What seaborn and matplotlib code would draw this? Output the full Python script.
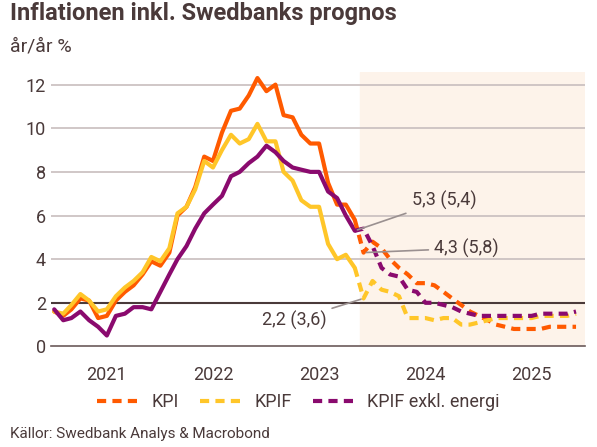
import matplotlib
matplotlib.use("Agg")
import matplotlib.pyplot as plt
import seaborn as sns
import pandas as pd
import numpy as np
from matplotlib.lines import Line2D

kpi_act = [1.6,1.4,1.7,2.2,2.1,1.3,1.4,2.1,2.5,2.8,3.3,3.9,
           3.7,4.3,6.0,6.4,7.3,8.7,8.5,9.8,10.8,10.9,11.5,12.3,
           11.7,12.0,10.6,10.5,9.7,9.3,9.3,7.5,6.5,6.5,5.8]
kpif_act = [1.6,1.5,1.9,2.4,2.1,1.6,1.7,2.3,2.7,3.0,3.4,4.1,
            3.9,4.5,6.1,6.4,7.2,8.5,8.2,9.0,9.7,9.3,9.5,10.2,
            9.4,9.4,8.0,7.6,6.7,6.4,6.4,4.7,4.0,4.2,3.6]
kpie_act = [1.7,1.2,1.3,1.6,1.2,0.9,0.5,1.4,1.5,1.8,1.8,1.7,
            2.5,3.3,4.0,4.6,5.4,6.1,6.5,6.9,7.8,8.0,8.4,8.7,
            9.2,8.9,8.5,8.2,8.1,8.0,8.0,7.1,6.8,6.0,5.3]
kpi_fc = [5.8,4.3,4.8,4.5,4.0,3.6,3.3,2.9,2.9,2.8,2.5,2.2,1.9,
          1.6,1.4,1.2,1.0,0.9,0.8,0.8,0.8,0.8,0.9,0.9,0.9,0.9]
kpif_fc = [3.6,2.2,3.0,2.6,2.5,2.3,1.3,1.3,1.3,1.2,1.3,1.3,1.0,
           1.0,1.1,1.2,1.3,1.3,1.3,1.3,1.3,1.4,1.4,1.4,1.4,1.5]
kpie_fc = [5.3,5.4,4.6,3.6,3.3,3.2,2.6,2.5,2.0,2.0,1.9,1.8,1.6,
           1.5,1.4,1.4,1.4,1.4,1.4,1.4,1.4,1.5,1.5,1.5,1.5,1.6]
series = ["KPI", "KPIF", "KPIF exkl. energi"]
colors = ["#FF5A00", "#FFC629", "#8A0A6E"]
years = ["2021", "2022", "2023", "2024", "2025"]

act_dates = pd.date_range("2021-01-01", periods=len(kpi_act), freq="MS")
fc_dates = pd.date_range(act_dates[-1], periods=len(kpi_fc), freq="MS")
act = pd.DataFrame({"date": np.tile(act_dates, 3), "val": kpi_act + kpif_act + kpie_act,
                    "serie": np.repeat(series, len(kpi_act))})
fc = pd.DataFrame({"date": np.tile(fc_dates, 3), "val": kpi_fc + kpif_fc + kpie_fc,
                   "serie": np.repeat(series, len(kpi_fc))})

sns.set_style("white")
plt.rcParams["font.family"] = ["Roboto", "DejaVu Sans"]
fig = plt.figure(figsize=(5.97, 4.47), dpi=100)
ax = fig.add_axes([0.085, 0.225, 0.895, 0.615])
ax.axvspan(pd.Timestamp("2023-11-20"), pd.Timestamp("2025-12-31"), color="#FDF3EA", zorder=0)
for y in [4, 6, 8, 10, 12]:
    ax.axhline(y, color="#C8BEBE", lw=1.2, zorder=1)
ax.axhline(2, color="#4A3A3A", lw=1.5, zorder=1)
pal = dict(zip(series, colors))
sns.lineplot(data=act, x="date", y="val", hue="serie", palette=pal, lw=3, ax=ax, legend=False, zorder=3)
sns.lineplot(data=fc, x="date", y="val", hue="serie", palette=pal, lw=3, ax=ax, legend=False, zorder=3,
             dashes=False, linestyle=(0, (2.2, 1.5)))
ax.set_xlim(pd.Timestamp("2020-12-20"), pd.Timestamp("2025-12-31"))
ax.set_ylim(0, 12.6)
ax.set_yticks([0, 2, 4, 6, 8, 10, 12])
ax.set_xticks([pd.Timestamp(f"{y}-01-01") for y in range(2021, 2027)])
ax.set_xticklabels([])
ax.set_xticks([pd.Timestamp(f"{y}-07-01") for y in years], minor=True)
ax.set_xticklabels(years, minor=True)
ax.tick_params(axis="x", which="major", length=8, color="#6B5A5A", width=1.2, direction="in")
ax.tick_params(axis="x", which="minor", length=0, labelsize=13, labelcolor="#4A3A3A", pad=14)
ax.tick_params(axis="y", length=0, labelsize=13, labelcolor="#4A3A3A")
ax.set_xlabel(""); ax.set_ylabel("")
for s in ["top", "right", "left"]:
    ax.spines[s].set_visible(False)
ax.spines["bottom"].set_color("#6B5A5A")
ax.spines["bottom"].set_linewidth(1.2)

ann = [("5,3 (5,4)", fc_dates[0], kpie_fc[0], "2024-05-15", 6.7),
       ("4,3 (5,8)", fc_dates[1], kpi_fc[1], "2024-08-01", 4.5),
       ("2,2 (3,6)", fc_dates[1], kpif_fc[1], "2022-12-15", 1.2)]
for txt, xd, yv, tx, ty in ann:
    ax.annotate(txt, xy=(xd, yv), xytext=(pd.Timestamp(tx), ty), fontsize=13, color="#4A3A3A",
                va="center", arrowprops=dict(arrowstyle="-", color="#9A9090", lw=1.2, shrinkA=2, shrinkB=2),
                zorder=5)

fig.text(0.017, 0.955, "Inflationen inkl. Swedbanks prognos", fontsize=17, fontweight="bold", color="#4A3A3A")
fig.text(0.017, 0.885, "år/år %", fontsize=14, color="#4A3A3A")
handles = [Line2D([], [], color=c, lw=3, linestyle=(0, (2.2, 1.5))) for c in colors]
fig.legend(handles, series, loc="center", bbox_to_anchor=(0.5, 0.1), ncol=3, frameon=False,
           fontsize=13, handlelength=2.2, columnspacing=1.2, labelcolor="#4A3A3A")
fig.text(0.017, 0.02, "Källor: Swedbank Analys & Macrobond", fontsize=11, color="#4A3A3A")
fig.savefig("out.png", dpi=100)
